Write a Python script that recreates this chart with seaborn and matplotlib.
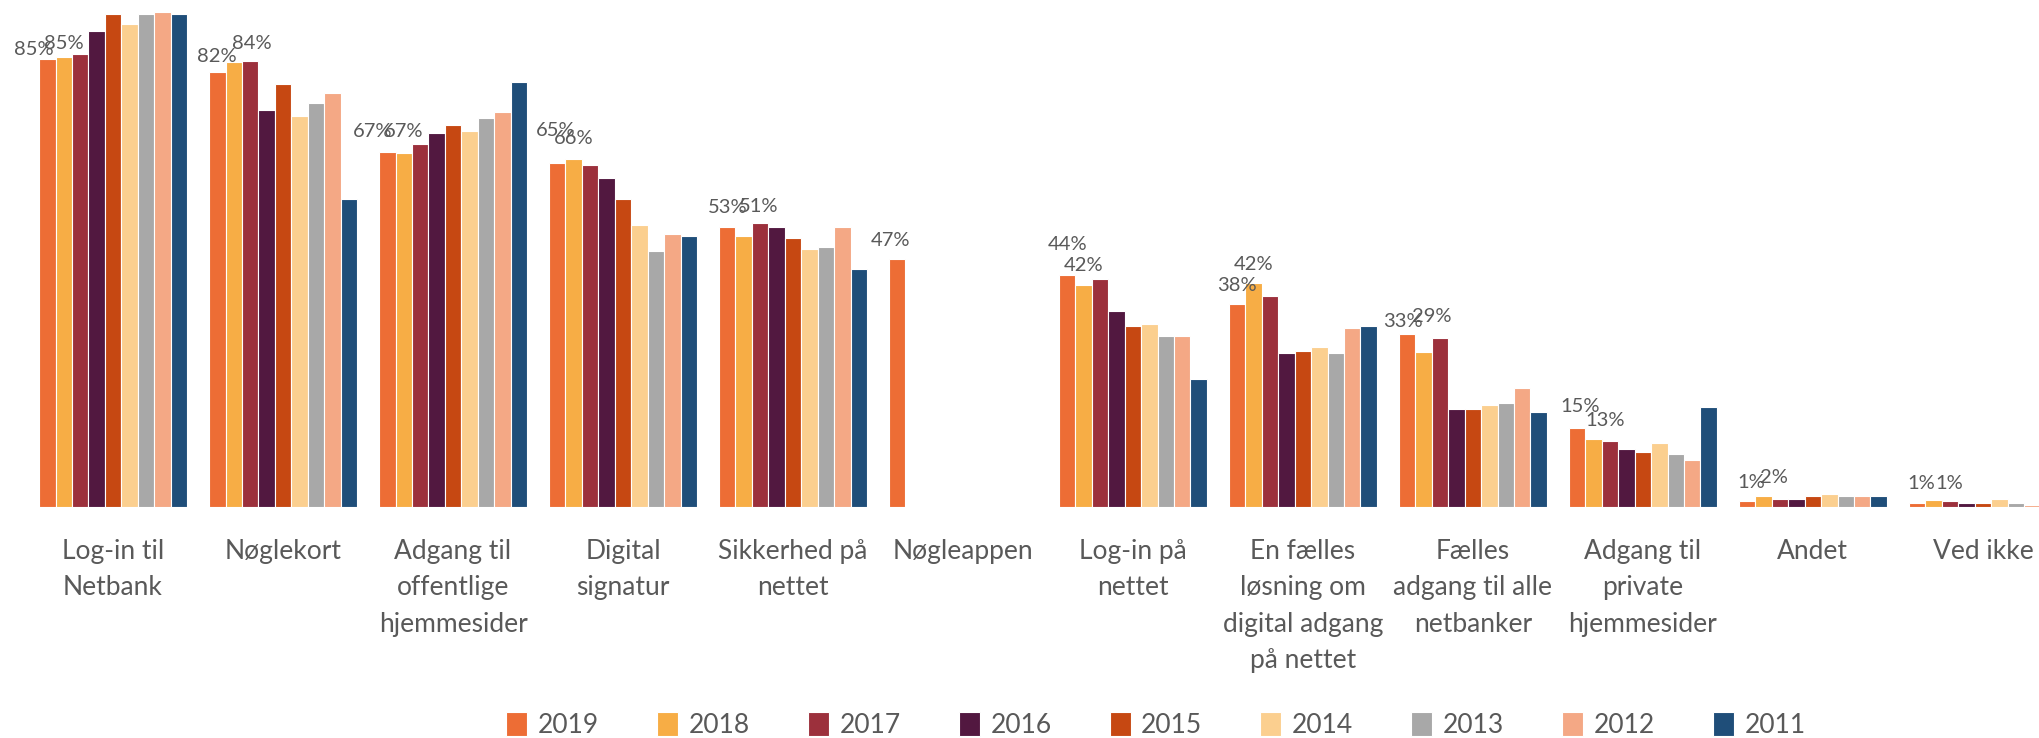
import numpy as np
import pandas as pd
import matplotlib
matplotlib.use("Agg")
import matplotlib.pyplot as plt
import seaborn as sns

## categories on the x axis (wrapped as in the original)
categories = ["Log-in til\nNetbank", "Nøglekort", "Adgang til\noffentlige\nhjemmesider",
              "Digital\nsignatur", "Sikkerhed på\nnettet", "Nøgleappen", "Log-in på\nnettet",
              "En fælles\nløsning om\ndigital adgang\npå nettet", "Fælles\nadgang til alle\nnetbanker",
              "Adgang til\nprivate\nhjemmesider", "Andet", "Ved ikke"]
years = ["2019", "2018", "2017", "2016", "2015", "2014", "2013", "2012", "2011"]

## share in percent, one list per year
v2019 = [85.0, 82.4, 67.3, 65.2, 53.0, 47.0, 44.0, 38.4, 32.7, 15.0, 1.2, 0.8]
v2018 = [85.3, 84.4, 67.1, 65.9, 51.4, np.nan, 42.0, 42.4, 29.4, 12.9, 2.0, 1.4]
v2017 = [85.8, 84.5, 68.8, 64.8, 53.8, np.nan, 43.2, 40.0, 32.0, 12.6, 1.6, 1.2]
v2016 = [90.2, 75.3, 70.8, 62.3, 53.0, np.nan, 37.2, 29.1, 18.6, 10.9, 1.6, 0.8]
v2015 = [93.5, 80.1, 72.4, 58.3, 50.9, np.nan, 34.4, 29.5, 18.6, 10.5, 2.0, 0.8]
v2014 = [91.5, 74.1, 71.2, 53.4, 48.9, np.nan, 34.7, 30.3, 19.3, 12.1, 2.5, 1.6]
v2013 = [93.5, 76.5, 73.7, 48.5, 49.3, np.nan, 32.4, 29.1, 19.8, 10.1, 2.0, 0.8]
v2012 = [93.9, 78.5, 74.8, 51.8, 53.0, np.nan, 32.4, 33.9, 22.6, 8.9, 2.0, 0.4]
v2011 = [93.5, 58.3, 80.6, 51.4, 45.2, np.nan, 24.2, 34.4, 18.1, 19.0, 2.0, 0.5]

colors = ["#ED6D35", "#F7AD45", "#9C303C", "#521840", "#C64812",
          "#FBCF8F", "#A8A8A8", "#F4A885", "#1F4E79"]

# hand-placed label nudges (dx, dy in pixels) as in the original chart
nudge19 = [(-14, 4), (0, 10), (-15, 15), (-2, 27), (0, 14), (-7, 13),
           (0, 25), (0, 13), (-4, 7), (3, 16), (4, 13), (4, 14)]
nudge18 = [(0, 8), (18, 13), (0, 16), (0, 15), (15, 24), (0, 0),
           (0, 14), (0, 13), (8, 30), (11, 13), (10, 13), (16, 11)]

series = [v2019, v2018, v2017, v2016, v2015, v2014, v2013, v2012, v2011]
rows = []
for y, vals in zip(years, series):
    for c, v in zip(categories, vals):
        rows.append({"Kategori": c, "År": y, "Andel": v})
df = pd.DataFrame(rows)

sns.set_style("white")
plt.rcParams["font.family"] = ["Lato", "DejaVu Sans"]
txt_color = "#595959"

fig = plt.figure(figsize=(20.39, 7.38), dpi=100)
ax = fig.add_axes([0, 0.313, 1, 0.687])

sns.barplot(data=df, x="Kategori", y="Andel", hue="År", order=categories, hue_order=years,
            palette=dict(zip(years, colors)), saturation=1, width=0.87, gap=0,
            edgecolor="white", linewidth=0.8, errorbar=None, ax=ax)

# value labels for 2019 and 2018 only
for vals, nudges, k in [(v2019, nudge19, 0), (v2018, nudge18, 1)]:
    for i, (v, (dx, dy)) in enumerate(zip(vals, nudges)):
        if np.isnan(v):
            continue
        x = i - 0.435 + 0.87 / 9 * (k + 0.5)
        ax.annotate(f"{v:.0f}%", (x, v), xytext=(dx, dy), textcoords="offset pixels",
                    ha="center", va="baseline", fontsize=14.5, color=txt_color)

ax.set_xlim(-0.665, 11.33)
ax.set_ylim(0, 96.1)
ax.set_xlabel("")
ax.set_ylabel("")
ax.set_yticks([])
ax.tick_params(axis="x", length=0, pad=23, labelsize=19, labelcolor=txt_color)
for lab in ax.get_xticklabels():
    lab.set_linespacing(1.57)
sns.despine(ax=ax, left=True, bottom=True)

handles, labels = ax.get_legend_handles_labels()
ax.legend_.remove()
leg = fig.legend(handles, labels, loc="lower center", bbox_to_anchor=(0.567, -0.032), ncol=9,
                 frameon=False, fontsize=19, handlelength=0.8, handleheight=1.0,
                 columnspacing=2.2, handletextpad=0.4)
for t in leg.get_texts():
    t.set_color(txt_color)

fig.savefig("out.png", dpi=100, facecolor="white")
